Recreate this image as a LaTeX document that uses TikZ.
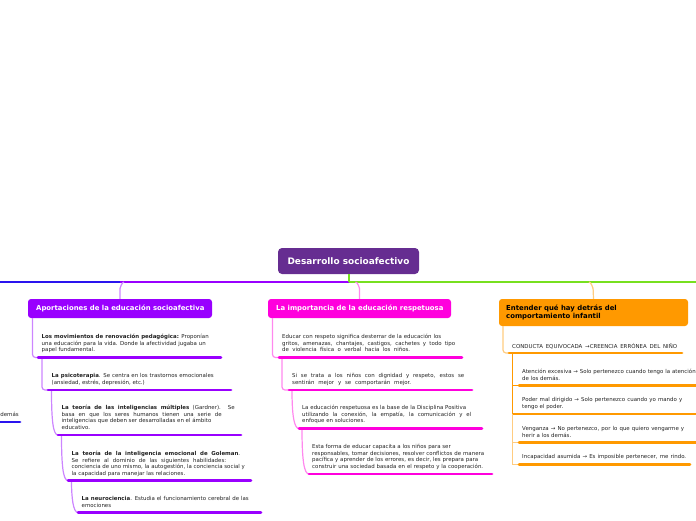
\documentclass[tikz,border=0pt]{standalone}
\usepackage{fontspec}
\setmainfont{DejaVu Sans}
\newfontfamily\headfont{DejaVu Sans}
\definecolor{cpurple}{HTML}{9900FF}
\definecolor{lpurple}{HTML}{CC85FF}
\definecolor{cmag}{HTML}{FF00DD}
\definecolor{lmag}{HTML}{FF88EE}
\definecolor{corange}{HTML}{FF9900}
\definecolor{lorange}{HTML}{FFCC80}
\definecolor{croot}{HTML}{662D91}
\definecolor{cgreen}{HTML}{77E01F}
\definecolor{cblue}{HTML}{2A14EE}
\definecolor{body}{HTML}{222222}
\newcommand{\jl}[2]{\makebox[#1pt][s]{#2}}
\tikzset{
  rootbox/.style={draw=none,fill=croot,rounded corners=4pt,text=white,font=\headfont\bfseries\fontsize{8.95}{10}\selectfont,minimum width=141pt,minimum height=26pt,inner sep=0pt},
  topic/.style={fill=#1,rounded corners=3pt,inner sep=0pt,minimum height=19pt},
  toptext/.style={text=white,font=\headfont\bfseries\fontsize{6.9}{8}\selectfont,inner sep=0pt},
  bodytext/.style={anchor=north west,inner sep=0pt,align=left,text=body,font=\fontsize{5.45}{6.7}\selectfont},
  uline/.style={draw=#1,line width=2.9pt,line cap=round},
  conn/.style={draw=#1,line width=1.2pt,rounded corners=3pt},
  trunk/.style={draw=#1,line width=1.2pt}
}
\begin{document}
\begin{tikzpicture}[x=1pt,y=-1pt]
\useasboundingbox (0,0) rectangle (696,520);
\clip (0,0) rectangle (696,520);
% root and topics
\node[rootbox] (root) at (348.5,261) {Desarrollo socioafectivo};
\node[topic=cpurple,minimum width=184pt] (ta) at (120,308.5) {};
\node[toptext,anchor=west] (tatext) at (36,308.5) {Aportaciones de la educación socioafectiva};
\node[topic=cmag,minimum width=183pt] (tb) at (359.5,308.5) {};
\node[toptext,anchor=west] (tbtext) at (276,308.5) {La importancia de la educación respetuosa};
\node[topic=corange,minimum width=189pt,minimum height=27pt] (tc) at (593.5,312.5) {};
\node[toptext,text=black,anchor=west,align=left,font=\headfont\bfseries\fontsize{6.9}{8}\selectfont] (tctext) at (506,312.5) {Entender qué hay detrás del\\comportamiento infantil};
% trunk lines
\coordinate (hl) at (0,282);
\coordinate (hb) at (120,282);
\coordinate (hm) at (349,282);
\coordinate (hr) at (696,282);
\draw[trunk=cblue] (hl) -- (hb);
\draw[trunk=cpurple] (hb) -- (hm);
\draw[trunk=cgreen] (hm) -- (hr);
\draw[trunk=cgreen] (root.south -| hm) -- (hm);
\draw[conn=lpurple] (ta.north) -- (120,286) to[out=-90,in=180] (124,282);
\draw[conn=lmag] (tb.north) -- (359.5,286) to[out=-90,in=0] (355.5,282);
\draw[conn=lorange] (tc.north) -- (593,286) to[out=-90,in=0] (589,282);
% purple branch
\node[bodytext] (a1) at (41.5,334) {\jl{167}{\textbf{Los movimientos de renovación pedagógica:} Proponían}\\\jl{164}{una educación para la vida. Donde la afectividad jugaba un}\\papel fundamental.};
\node[bodytext] (a2) at (51.5,373) {\jl{162}{\textbf{La psicoterapia}. Se centra en los trastornos emocionales}\\(ansiedad, estrés, depresión, etc.)};
\node[bodytext] (a3) at (61.5,405) {\jl{173}{\textbf{La teoría de las inteligencias múltiples} (Gardner). Se}\\\jl{160}{basa en que los seres humanos tienen una serie de}\\inteligencias que deben ser desarrolladas en el ámbito\\educativo.};
\node[bodytext] (a4) at (71.5,451) {\jl{168.5}{\textbf{La teoría de la inteligencia emocional de Goleman}.}\\\jl{154.5}{Se refiere al dominio de las siguientes habilidades:}\\conciencia de uno mismo, la autogestión, la conciencia social y\\la capacidad para manejar las relaciones.};
\node[bodytext] (a5) at (81.5,496) {\jl{167}{\textbf{La neurociencia}. Estudia el funcionamiento cerebral de las}\\emociones};
\coordinate (ua1) at (38,357.5); \coordinate (ua1e) at (221,357.5);
\coordinate (ua2) at (48,390); \coordinate (ua2e) at (231,390);
\coordinate (ua3) at (58,435); \coordinate (ua3e) at (241,435);
\coordinate (ua4) at (68,480.5); \coordinate (ua4e) at (251,480.5);
\coordinate (ua5) at (78,512.5); \coordinate (ua5e) at (261,512.5);
\draw[conn=lpurple] (32.5,318) -- (32.5,357.5) -- (ua1);
\draw[conn=lpurple] (42,358) -- (42,390) -- (ua2);
\draw[conn=lpurple] (ua2 -| 51.5,0) .. controls (51.5,420) and (53,435) .. (ua3);
\draw[conn=lpurple] (ua3 -| 61.5,0) .. controls (61.5,465) and (63,480.5) .. (ua4);
\draw[conn=lpurple] (ua4 -| 71.5,0) .. controls (71.5,497) and (73,512.5) .. (ua5);
\foreach \n in {1,...,5} {\draw[uline=cpurple] (ua\n) -- (ua\n e);}
% stray branch at the left edge
\node[bodytext] (stray) at (0.2,412) {demás};
\coordinate (us) at (-5,422); \coordinate (use) at (20,422);
\draw[uline=cblue] (us) -- (use);
% magenta branch
\node[bodytext] (b1) at (282,334) {\jl{159}{Educar con respeto significa desterrar de la educación los}\\\jl{173}{gritos, amenazas, chantajes, castigos, cachetes y todo tipo}\\\jl{128}{de violencia física o verbal hacia los niños.}};
\node[bodytext] (b2) at (292,373) {\jl{172}{Si se trata a los niños con dignidad y respeto, estos se}\\\jl{119}{sentirán mejor y se comportarán mejor.}};
\node[bodytext] (b3) at (302,405) {\jl{164}{La educación respetuosa es la base de la Disciplina Positiva}\\\jl{169}{utilizando la conexión, la empatía, la comunicación y el}\\enfoque en soluciones.};
\node[bodytext] (b4) at (312,444) {Esta forma de educar capacita a los niños para ser\\\jl{172}{responsables, tomar decisiones, resolver conflictos de manera}\\\jl{166}{pacífica y aprender de los errores, es decir, les prepara para}\\\jl{171}{construir una sociedad basada en el respeto y la cooperación.}};
\coordinate (ub1) at (279,357.5); \coordinate (ub1e) at (462,357.5);
\coordinate (ub2) at (289,390); \coordinate (ub2e) at (472,390);
\coordinate (ub3) at (299,428.5); \coordinate (ub3e) at (482,428.5);
\coordinate (ub4) at (309,474); \coordinate (ub4e) at (492,474);
\draw[conn=lmag] (272.5,318) -- (272.5,357.5) -- (ub1);
\draw[conn=lmag] (282,358) -- (282,390) -- (ub2);
\draw[conn=lmag] (ub2 -| 292,0) .. controls (292,415) and (294,428.5) .. (ub3);
\draw[conn=lmag] (ub3 -| 302,0) .. controls (302,460) and (304,474) .. (ub4);
\foreach \n in {1,...,4} {\draw[uline=cmag] (ub\n) -- (ub\n e);}
% orange branch
\node[bodytext] (c1) at (512,343) {\jl{165}{CONDUCTA EQUIVOCADA →CREENCIA ERRÓNEA DEL NIÑO}};
\node[bodytext] (c2) at (522,369) {\jl{173.5}{Atención excesiva → Solo pertenezco cuando tengo la atención}\\de los demás.};
\node[bodytext] (c3) at (522,397) {\jl{160}{Poder mal dirigido → Solo pertenezco cuando yo mando y}\\tengo el poder.};
\node[bodytext] (c4) at (522,426) {\jl{162}{Venganza → No pertenezco, por lo que quiero vengarme y}\\herir a los demás.};
\node[bodytext] (c5) at (522,454) {\jl{164}{Incapacidad asumida → Es imposible pertenecer, me rindo.}};
\coordinate (uc1) at (509,353); \coordinate (uc1e) at (682,353);
\coordinate (uc2) at (519,385.5); \coordinate (uc2e) at (700,385.5);
\coordinate (uc3) at (519,414); \coordinate (uc3e) at (700,414);
\coordinate (uc4) at (519,442.5); \coordinate (uc4e) at (700,442.5);
\coordinate (uc5) at (519,464.5); \coordinate (uc5e) at (690,464.5);
\draw[conn=lorange] (503,326) -- (503,353) -- (uc1);
\draw[conn=corange,rounded corners=0pt] (512.5,354) -- (512.5,385.5) -- (uc2);
\draw[conn=corange,rounded corners=0pt] (512.5,385.5) -- (512.5,414) -- (uc3);
\draw[conn=lorange,rounded corners=0pt] (512.5,414) -- (512.5,442.5) -- (uc4);
\draw[conn=lorange,rounded corners=0pt] (512.5,442.5) -- (512.5,464.5) -- (uc5);
\foreach \n in {1,...,5} {\draw[uline=corange] (uc\n) -- (uc\n e);}
\end{tikzpicture}
\end{document}
